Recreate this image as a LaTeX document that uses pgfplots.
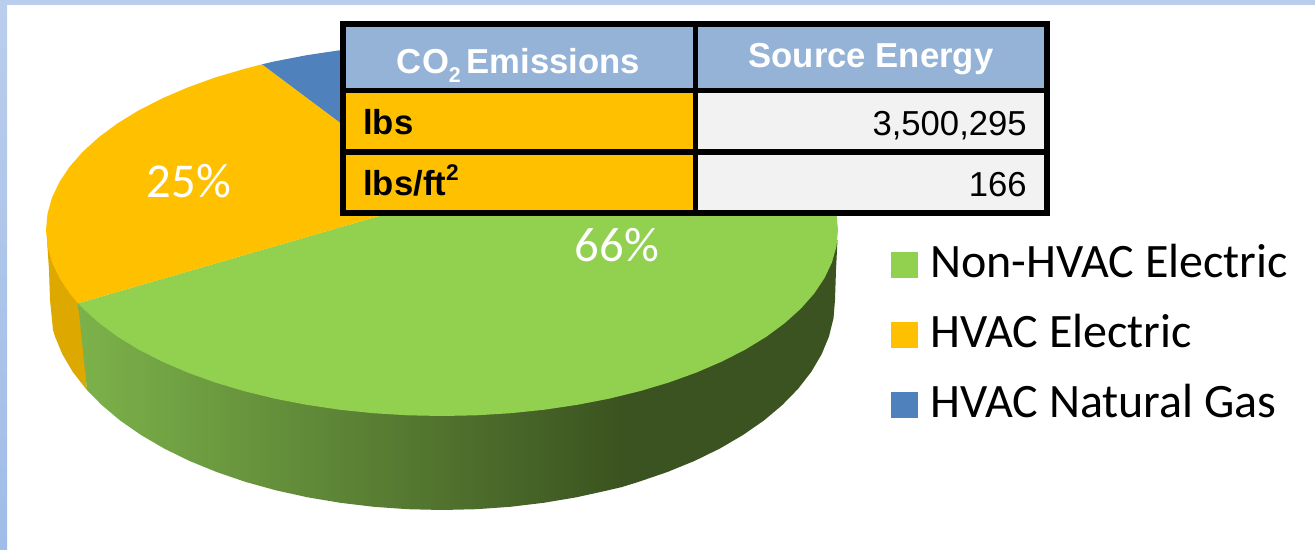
\documentclass[border=0pt]{standalone}
\usepackage{fontspec}
\setmainfont{Carlito}
\newfontfamily\arial{Liberation Sans}
\usepackage{pgfplots}
\pgfplotsset{compat=1.18}
\definecolor{pgreen}{HTML}{92D050}
\definecolor{porange}{HTML}{FFC000}
\definecolor{pblue}{HTML}{4F81BD}
\definecolor{pheader}{HTML}{95B3D7}
\definecolor{pgrey}{HTML}{F2F2F2}
\definecolor{psideo}{HTML}{DDA800}
\definecolor{psideg}{HTML}{7CB24A}
\definecolor{psided}{HTML}{3B5320}
\definecolor{bandtop}{HTML}{BACDEC}
\definecolor{bandbot}{HTML}{A0BCE8}
\begin{document}
\begin{tikzpicture}
\begin{axis}[
  scale only axis, width=986.25pt, height=412.5pt,
  xmin=0, xmax=1315, ymin=0, ymax=550, y dir=reverse,
  hide axis,
  legend style={draw=none, fill=none, at={(axis cs:891,243)}, anchor=north west,
    inner sep=0pt, outer sep=0pt, row sep=18.5pt,
    font=\fontsize{36}{36}\selectfont,
    nodes={inner sep=0pt, text height=26pt, text depth=8pt}},
  legend cell align=left,
  legend image code/.code={\fill[#1] (0pt,-9.6pt) rectangle (20.25pt,10.6pt); \path (29.5pt,0pt);},
]
% slide background bands
\addplot[forget plot, draw=none, top color=bandtop, bottom color=bandbot] coordinates {(0,0) (7,0) (7,550) (0,550)} -- cycle;
\addplot[forget plot, draw=none, fill=bandtop] coordinates {(0,0) (1315,0) (1315,5) (0,5)} -- cycle;

% pie sides
\addplot[forget plot, draw=none, fill=psideo] coordinates {
  (47,240) (49,270) (50,300) (53,330) (55,336.5) (62.4,354.3) (72.7,371.8) (85.8,388.7) (87,390) (80,303)
} -- cycle;
\addplot[forget plot, draw=none, left color=psideg, right color=psided] coordinates {
  (78,303) (87,390) (101.7,405) (120.1,420.5) (141,435) (164.1,448.5) (189.4,460.9) (216.6,472)
  (245.5,481.9) (275.9,490.3) (307.6,497.3) (340.3,502.8) (373.8,506.8) (407.7,509.2) (442,510)
  (476.3,509.2) (510.2,506.8) (543.7,502.8) (576.4,497.3) (608.1,490.3) (622,487) (622,300)
} -- cycle;
\addplot[forget plot, draw=none, fill=psided] coordinates {
  (621,487.3) (638.5,481.9) (667.4,472) (694.6,460.9) (719.9,448.5) (743,435) (763.9,420.5)
  (782.3,405) (798.2,388.7) (811.3,371.8) (821.6,354.3) (829,336.5) (833.5,318.3) (835,300)
  (836,270) (837.5,240) (621,240)
} -- cycle;

% pie top: 66 / 25 / 9 percent
\addplot[draw=none, fill=pgreen] coordinates {
  (441,198) (78,303.3) (83.1,308.6) (99.1,323) (117.6,336.7) (138.7,349.6) (162,361.5) (187.5,372.5)
  (214.9,382.4) (244,391.1) (274.6,398.6) (306.6,404.8) (339.5,409.7) (373.3,413.2) (407.5,415.3)
  (442,416) (476.5,415.3) (510.7,413.2) (544.5,409.7) (577.4,404.8) (609.4,398.6) (640,391.1)
  (669.1,382.4) (696.5,372.5) (722,361.5) (745.3,349.6) (766.4,336.7) (784.9,323) (800.9,308.6)
  (814.1,293.6) (824.5,278.1) (832,262.3) (836.5,246.2) (838,230) (836.5,213.8) (832,197.7)
} -- cycle;
\addlegendentry{Non-HVAC Electric}
\addplot[draw=none, fill=porange] coordinates {
  (441,198) (262,64.3) (244,69) (214.9,77.6) (187.5,87.5) (162,98.5) (138.7,110.4) (117.6,123.3)
  (99.1,137) (83.1,151.4) (69.9,166.4) (59.5,181.9) (52,197.7) (47.5,213.8) (46,230) (47.5,246.2)
  (52,262.3) (59.5,278.1) (69.9,293.6) (78,303.3)
} -- cycle;
\addlegendentry{HVAC Electric}
\addplot[draw=none, fill=pblue] coordinates {
  (441,198) (373.3,46.8) (339.5,50.3) (306.6,55.2) (274.6,61.4) (262,64.3)
} -- cycle;
\addlegendentry{HVAC Natural Gas}

% table over the pie
\addplot[forget plot, draw=none, fill=black] coordinates {(340,21) (1050,21) (1050,216) (340,216)} -- cycle;
\addplot[forget plot, draw=none, fill=pheader] coordinates {(346,27) (693,27) (693,88) (346,88)} -- cycle;
\addplot[forget plot, draw=none, fill=pheader] coordinates {(698,27) (1044,27) (1044,88) (698,88)} -- cycle;
\addplot[forget plot, draw=none, fill=porange] coordinates {(346,93) (693,93) (693,149) (346,149)} -- cycle;
\addplot[forget plot, draw=none, fill=pgrey] coordinates {(698,93) (1044,93) (1044,149) (698,149)} -- cycle;
\addplot[forget plot, draw=none, fill=porange] coordinates {(346,155) (693,155) (693,210) (346,210)} -- cycle;
\addplot[forget plot, draw=none, fill=pgrey] coordinates {(698,155) (1044,155) (1044,210) (698,210)} -- cycle;

\tikzset{cell/.style={inner sep=0pt, font=\arial\fontsize{26}{27}\selectfont}}
\node[cell, anchor=base, text=white] at (axis cs:518.5,73) {\bfseries CO\raisebox{-.28em}{\fontsize{16}{16}\selectfont\bfseries 2}\,Emissions};
\node[cell, anchor=base, text=white] at (axis cs:871,67) {\bfseries Source Energy};
\node[cell, anchor=base west] at (axis cs:363,134) {\bfseries lbs};
\node[cell, anchor=base west] at (axis cs:363,195) {\bfseries lbs/ft\raisebox{.42em}{\fontsize{17}{17}\selectfont\bfseries 2}};
\node[cell, anchor=base east] at (axis cs:1027,135) {3,500,295};
\node[cell, anchor=base east] at (axis cs:1027,196) {166};

\node[anchor=center, inner sep=0pt, text=white, font=\fontsize{36.5}{37}\selectfont] at (axis cs:189,181) {25\%};
\node[anchor=center, inner sep=0pt, text=white, font=\fontsize{36.5}{37}\selectfont] at (axis cs:617,245) {66\%};
\end{axis}
\end{tikzpicture}
\end{document}
